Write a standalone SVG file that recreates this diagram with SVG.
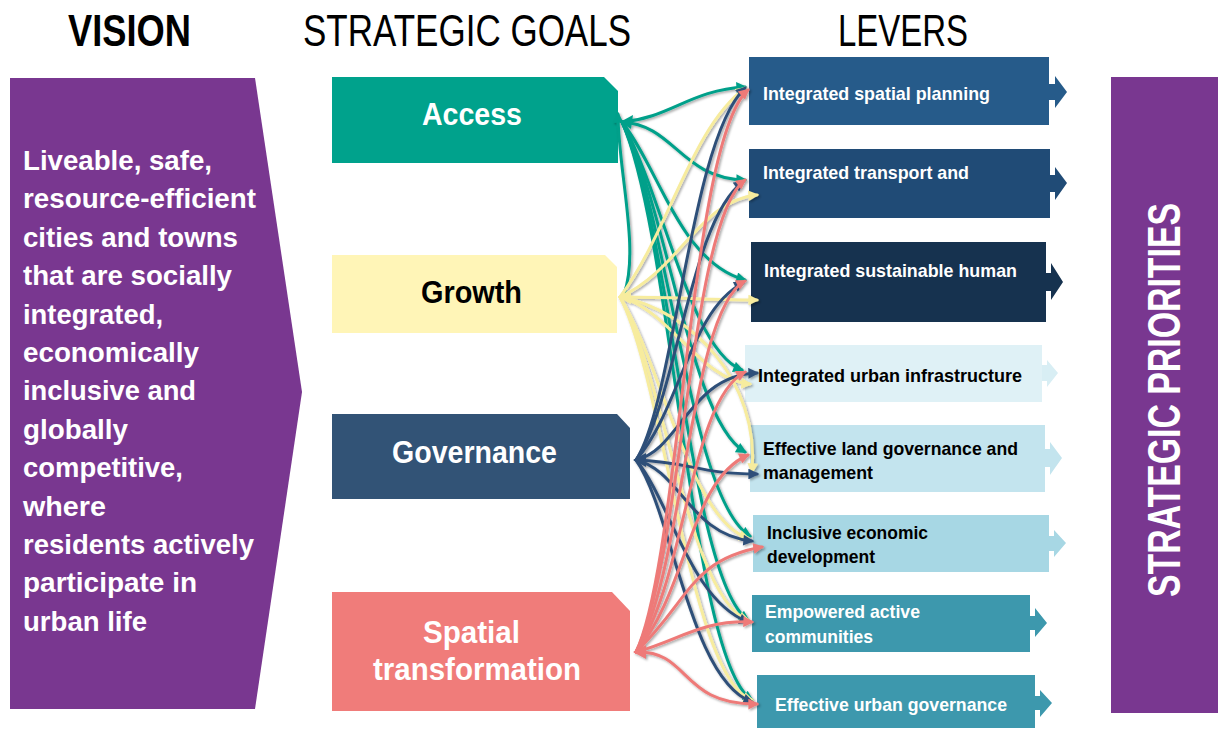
<svg xmlns="http://www.w3.org/2000/svg" width="1218" height="729" viewBox="0 0 1218 729">
<defs>
<style>
.hd{font-family:"Liberation Sans",Arial,sans-serif;font-size:44px;fill:#000}
.b{font-family:"Liberation Sans",Arial,sans-serif;font-weight:bold}
.vt{font-size:28px;fill:#fff}
.gt{font-size:32px}
.lt{font-size:19px}
.w{fill:#fff}
.k{fill:#000}
.c{fill:none;stroke-width:3;stroke-linecap:round}
.teal{stroke:#00A08A}
.yel{stroke:#F7EC9E}
.blu{stroke:#2F5079}
.red{stroke:#EE7A78}
</style>
<filter id="sh" x="-20%" y="-20%" width="140%" height="140%">
<feDropShadow dx="1.5" dy="1.5" stdDeviation="1.2" flood-color="#000" flood-opacity="0.35"/>
</filter>
<marker id="mt" viewBox="0 0 10 10" refX="8" refY="5" markerWidth="4" markerHeight="3.6" orient="auto"><path d="M0,0 L10,5 L0,10 z" fill="#00A08A"/></marker>
<marker id="my" viewBox="0 0 10 10" refX="8" refY="5" markerWidth="4" markerHeight="3.6" orient="auto"><path d="M0,0 L10,5 L0,10 z" fill="#F7EC9E"/></marker>
<marker id="mb" viewBox="0 0 10 10" refX="8" refY="5" markerWidth="4" markerHeight="3.6" orient="auto"><path d="M0,0 L10,5 L0,10 z" fill="#2F5079"/></marker>
<marker id="mr" viewBox="0 0 10 10" refX="8" refY="5" markerWidth="4" markerHeight="3.6" orient="auto"><path d="M0,0 L10,5 L0,10 z" fill="#EE7A78"/></marker>
</defs>
<rect width="1218" height="729" fill="#fff"/>

<g id="headers">
<text class="hd b" x="68" y="46" textLength="123" lengthAdjust="spacingAndGlyphs">VISION</text>
<text class="hd" x="303" y="46" textLength="328" lengthAdjust="spacingAndGlyphs">STRATEGIC GOALS</text>
<text class="hd" x="838" y="46" textLength="130" lengthAdjust="spacingAndGlyphs">LEVERS</text>
</g>

<g id="vision">
<polygon points="10,78 255,78 302,392 255,709 10,709" fill="#793790"/>
<g class="b vt">
<text x="23" y="170" textLength="189" lengthAdjust="spacingAndGlyphs">Liveable, safe,</text>
<text x="23" y="208" textLength="233" lengthAdjust="spacingAndGlyphs">resource-efficient</text>
<text x="23" y="247" textLength="215" lengthAdjust="spacingAndGlyphs">cities and towns</text>
<text x="23" y="285" textLength="209" lengthAdjust="spacingAndGlyphs">that are socially</text>
<text x="23" y="324" textLength="140" lengthAdjust="spacingAndGlyphs">integrated,</text>
<text x="23" y="362" textLength="176" lengthAdjust="spacingAndGlyphs">economically</text>
<text x="23" y="400" textLength="173" lengthAdjust="spacingAndGlyphs">inclusive and</text>
<text x="23" y="439" textLength="105" lengthAdjust="spacingAndGlyphs">globally</text>
<text x="23" y="477" textLength="160" lengthAdjust="spacingAndGlyphs">competitive,</text>
<text x="23" y="516" textLength="83" lengthAdjust="spacingAndGlyphs">where</text>
<text x="23" y="554" textLength="231" lengthAdjust="spacingAndGlyphs">residents actively</text>
<text x="23" y="592" textLength="174" lengthAdjust="spacingAndGlyphs">participate in</text>
<text x="23" y="631" textLength="124" lengthAdjust="spacingAndGlyphs">urban life</text>
</g>
</g>

<g id="goal-access">
<polygon points="332,77 604,77 618,91 618,163 332,163" fill="#00A28C"/>
<text class="b gt w" x="422" y="125" textLength="100" lengthAdjust="spacingAndGlyphs">Access</text>
</g>
<g id="goal-growth">
<polygon points="332,255 605,255 617,267 617,333 332,333" fill="#FFF5B7"/>
<text class="b gt k" x="421" y="303" textLength="101" lengthAdjust="spacingAndGlyphs">Growth</text>
</g>
<g id="goal-governance">
<polygon points="332,414 617,414 630,428 630,499 332,499" fill="#325376"/>
<text class="b gt w" x="392" y="463" textLength="165" lengthAdjust="spacingAndGlyphs">Governance</text>
</g>
<g id="goal-spatial">
<polygon points="332,592 612,592 630,611 630,711 332,711" fill="#F07C7A"/>
<text class="b gt w" x="423" y="643" textLength="97" lengthAdjust="spacingAndGlyphs">Spatial</text>
<text class="b gt w" x="373" y="680" textLength="208" lengthAdjust="spacingAndGlyphs">transformation</text>
</g>

<g id="lever-1">
<rect x="749" y="57" width="300" height="68" fill="#265B8A"/>
<polygon points="1049,84 1055,84 1055,76 1067,92 1055,108 1055,100 1049,100" fill="#265B8A"/>
<text class="b lt w" x="763" y="100" textLength="227" lengthAdjust="spacingAndGlyphs">Integrated spatial planning</text>
</g>
<g id="lever-2">
<rect x="749" y="149" width="301" height="69" fill="#204B76"/>
<polygon points="1050,175 1055,175 1055,167 1067,183 1055,200 1055,192 1050,192" fill="#204B76"/>
<text class="b lt w" x="763" y="179" textLength="206" lengthAdjust="spacingAndGlyphs">Integrated transport and</text>
</g>
<g id="lever-3">
<rect x="751" y="242" width="295" height="80" fill="#16324F"/>
<polygon points="1046,273 1051,273 1051,263 1063,282 1051,300 1051,291 1046,291" fill="#16324F"/>
<text class="b lt w" x="764" y="277" textLength="253" lengthAdjust="spacingAndGlyphs">Integrated sustainable human</text>
</g>
<g id="lever-4">
<rect x="745" y="345" width="297" height="57" fill="#DFF1F6"/>
<polygon points="1042,365 1047,365 1047,360 1058,373 1047,387 1047,381 1042,381" fill="#D8EEF4"/>
<text class="b lt k" x="758" y="382" textLength="264" lengthAdjust="spacingAndGlyphs">Integrated urban infrastructure</text>
</g>
<g id="lever-5">
<rect x="750" y="425" width="295" height="67" fill="#C3E4EE"/>
<polygon points="1045,449 1050,449 1050,442 1062,458 1050,475 1050,467 1045,467" fill="#C3E4EE"/>
<text class="b lt k" x="763" y="455" textLength="255" lengthAdjust="spacingAndGlyphs">Effective land governance and</text>
<text class="b lt k" x="763" y="479" textLength="110" lengthAdjust="spacingAndGlyphs">management</text>
</g>
<g id="lever-6">
<rect x="753" y="515" width="296" height="57" fill="#A7D7E4"/>
<polygon points="1049,536 1054,536 1054,530 1066,543 1054,557 1054,551 1049,551" fill="#A7D7E4"/>
<text class="b lt k" x="767" y="539" textLength="161" lengthAdjust="spacingAndGlyphs">Inclusive economic</text>
<text class="b lt k" x="767" y="563" textLength="108" lengthAdjust="spacingAndGlyphs">development</text>
</g>
<g id="lever-7">
<rect x="752" y="595" width="278" height="57" fill="#3D98AD"/>
<polygon points="1030,616 1035,616 1035,608 1047,623 1035,637 1035,630 1030,630" fill="#3D98AD"/>
<text class="b lt w" x="765" y="618" textLength="155" lengthAdjust="spacingAndGlyphs">Empowered active</text>
<text class="b lt w" x="765" y="643" textLength="108" lengthAdjust="spacingAndGlyphs">communities</text>
</g>
<g id="lever-8">
<rect x="757" y="675" width="278" height="53" fill="#3D98AD"/>
<polygon points="1035,696 1040,696 1040,690 1052,703 1040,717 1040,710 1035,710" fill="#3D98AD"/>
<text class="b lt w" x="775" y="711" textLength="232" lengthAdjust="spacingAndGlyphs">Effective urban governance</text>
</g>

<g id="strategic-priorities">
<rect x="1111" y="77" width="107" height="636" fill="#793790"/>
<text class="b w" font-size="46" text-anchor="middle" transform="translate(1180,400) rotate(-90)" textLength="394" lengthAdjust="spacingAndGlyphs">STRATEGIC PRIORITIES</text>
</g>

<g id="connectors" filter="url(#sh)">
<!-- Access (teal) -->
<path class="c teal" marker-end="url(#mt)" d="M624,294 C640,250 618,170 618,114"/>
<path class="c teal" marker-end="url(#mt)" d="M622,122 C670,118 690,90 745,87"/>
<path class="c teal" marker-end="url(#mt)" d="M622,122 C675,125 680,178 745,180"/>
<path class="c teal" marker-end="url(#mt)" d="M622,122 C660,170 680,262 745,280"/>
<path class="c teal" marker-end="url(#mt)" d="M622,122 C665,200 690,350 742,370"/>
<path class="c teal" marker-end="url(#mt)" d="M622,122 C668,210 690,420 745,452"/>
<path class="c teal" marker-end="url(#mt)" d="M622,122 C670,220 690,500 750,536"/>
<path class="c teal" marker-end="url(#mt)" d="M622,122 C672,230 690,580 748,620"/>
<path class="c teal" marker-end="url(#mt)" d="M622,122 C674,240 690,660 752,700"/>
<!-- Growth (yellow) -->
<path class="c yel" marker-end="url(#my)" d="M620,297 C670,230 690,130 745,88"/>
<path class="c yel" marker-end="url(#my)" d="M620,297 C680,270 700,200 757,195"/>
<path class="c yel" marker-end="url(#my)" d="M620,297 C680,297 700,300 757,300"/>
<path class="c yel" marker-end="url(#my)" d="M620,297 C670,310 700,380 750,384"/>
<path class="c yel" marker-end="url(#my)" d="M620,297 C690,310 760,380 752,472"/>
<path class="c yel" marker-end="url(#my)" d="M620,297 C660,360 690,520 748,538"/>
<path class="c yel" marker-end="url(#my)" d="M620,297 C662,370 690,600 748,620"/>
<path class="c yel" marker-end="url(#my)" d="M620,297 C664,380 690,680 752,700"/>
<!-- Governance (blue) -->
<path class="c blu" marker-end="url(#mb)" d="M636,460 C675,400 690,140 745,88"/>
<path class="c blu" marker-end="url(#mb)" d="M636,460 C677,400 690,220 743,182"/>
<path class="c blu" marker-end="url(#mb)" d="M636,460 C680,410 690,310 743,283"/>
<path class="c blu" marker-end="url(#mb)" d="M636,460 C680,450 690,375 757,373"/>
<path class="c blu" marker-end="url(#mb)" d="M636,460 C690,462 700,474 757,474"/>
<path class="c blu" marker-end="url(#mb)" d="M636,460 C680,470 690,535 752,541"/>
<path class="c blu" marker-end="url(#mb)" d="M636,460 C670,500 690,600 748,622"/>
<path class="c blu" marker-end="url(#mb)" d="M636,460 C672,510 690,680 752,702"/>
<!-- Spatial transformation (red) -->
<path class="c red" marker-end="url(#mr)" d="M636,652 C680,560 690,140 748,90"/>
<path class="c red" marker-end="url(#mr)" d="M636,652 C682,560 690,220 745,180"/>
<path class="c red" marker-end="url(#mr)" d="M636,652 C684,570 690,310 745,281"/>
<path class="c red" marker-end="url(#mr)" d="M636,652 C686,580 690,400 745,372"/>
<path class="c red" marker-end="url(#mr)" d="M636,652 C688,590 690,480 748,455"/>
<path class="c red" marker-end="url(#mr)" d="M636,652 C690,600 690,560 762,547"/>
<path class="c red" marker-end="url(#mr)" d="M636,652 C680,640 700,620 752,622"/>
<path class="c red" marker-end="url(#mr)" d="M636,652 C690,650 680,705 757,704"/>
<!-- goal-end arrowheads -->
<polygon points="620,122 633,115 631,129" fill="#00A08A"/>
<polygon points="618,297 631,290 631,304" fill="#F7EC9E"/>
<polygon points="633,460 646,453 646,467" fill="#2F5079"/>
<polygon points="633,652 646,645 646,659" fill="#EE7A78"/>
</g>
</svg>
